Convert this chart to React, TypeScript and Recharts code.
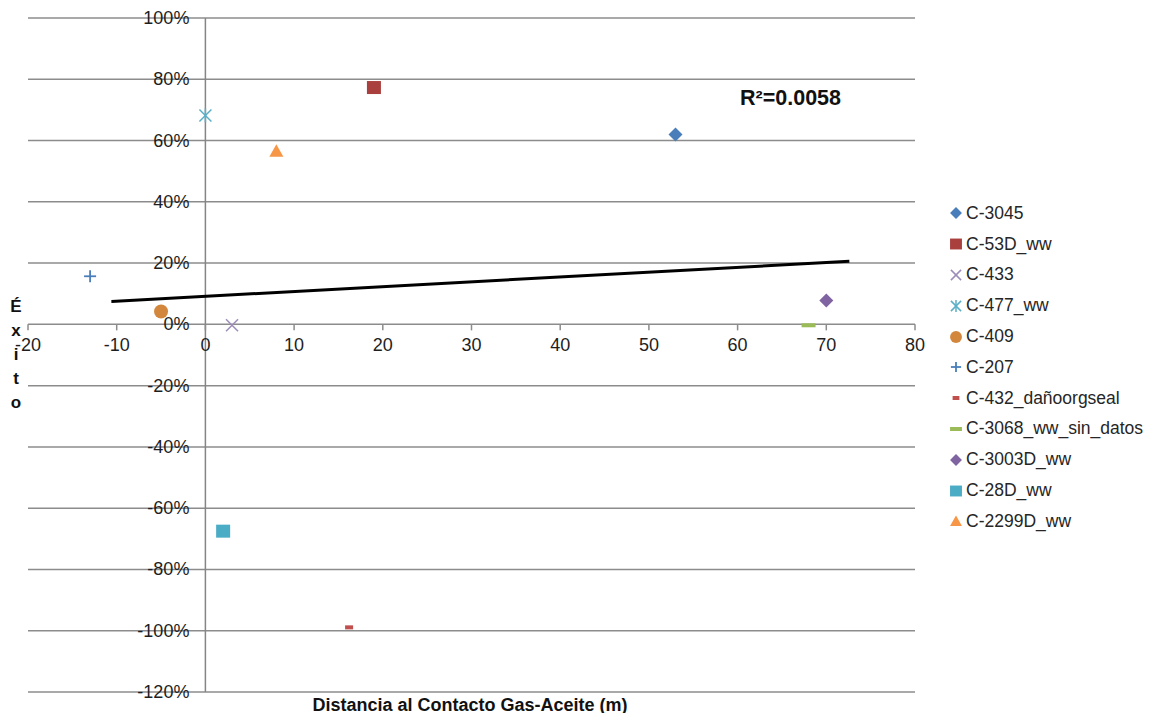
import { Legend, ReferenceDot, ReferenceLine, Scatter, ScatterChart, XAxis, YAxis } from "recharts";

const wells = [
  "C-3045",
  "C-53D_ww",
  "C-433",
  "C-477_ww",
  "C-409",
  "C-207",
  "C-432_dañoorgseal",
  "C-3068_ww_sin_datos",
  "C-3003D_ww",
  "C-28D_ww",
  "C-2299D_ww",
];
const distancia = [53, 19, 3, 0, -5, -13, 16.2, 68, 70, 2, 8];
const exito = [0.62, 0.773, -0.003, 0.682, 0.042, 0.157, -0.989, -0.003, 0.078, -0.675, 0.567];
const colors = [
  "#4a7ebb",
  "#a9403d",
  "#9c8dba",
  "#5aafc6",
  "#d3873d",
  "#4a7ebb",
  "#c0504d",
  "#9bbb59",
  "#8064a2",
  "#4bacc6",
  "#f79646",
];
const markers = ["diamond", "square", "x", "asterisk", "circle", "plus", "dashSmall", "dash", "diamond", "square", "triangle"];

const xTicks = [-20, -10, 0, 10, 20, 30, 40, 50, 60, 70, 80];
const yTicks = [1, 0.8, 0.6, 0.4, 0.2, 0, -0.2, -0.4, -0.6, -0.8, -1, -1.2];

// linear trend
const trendX = [-10.6, 72.6];
const trendY = [0.075, 0.206];
const r2Label = "R²=0.0058";

const FONT = "'Liberation Sans', Arial, sans-serif";

function Marker({ kind, cx, cy, color, k = 1 }: { kind: string; cx: number; cy: number; color: string; k?: number }) {
  const s = 7 * k;
  switch (kind) {
    case "diamond":
      return <polygon points={`${cx},${cy - s} ${cx + s},${cy} ${cx},${cy + s} ${cx - s},${cy}`} fill={color} />;
    case "square":
      return <rect x={cx - s} y={cy - s + 0.5} width={2 * s} height={2 * s - 1} fill={color} />;
    case "circle":
      return <circle cx={cx} cy={cy} r={s} fill={color} />;
    case "triangle":
      return <polygon points={`${cx},${cy - s + 0.5} ${cx + s},${cy + s - 1} ${cx - s},${cy + s - 1}`} fill={color} />;
    case "x": {
      const a = 6 * k;
      return (
        <g stroke={color} strokeWidth={1.5}>
          <line x1={cx - a} y1={cy - a} x2={cx + a} y2={cy + a} />
          <line x1={cx - a} y1={cy + a} x2={cx + a} y2={cy - a} />
        </g>
      );
    }
    case "asterisk": {
      const a = 6 * k;
      return (
        <g stroke={color} strokeWidth={1.5}>
          <line x1={cx - a} y1={cy - a} x2={cx + a} y2={cy + a} />
          <line x1={cx - a} y1={cy + a} x2={cx + a} y2={cy - a} />
          <line x1={cx} y1={cy - a - 1} x2={cx} y2={cy + a + 1} />
        </g>
      );
    }
    case "plus": {
      const a = 6 * k;
      return (
        <g stroke={color} strokeWidth={1.8}>
          <line x1={cx - a} y1={cy} x2={cx + a} y2={cy} />
          <line x1={cx} y1={cy - a} x2={cx} y2={cy + a} />
        </g>
      );
    }
    case "dashSmall":
      return <rect x={cx - 4 * k} y={cy - 2} width={8 * k} height={4} fill={color} />;
    case "dash":
      return <rect x={cx - 7 * k} y={cy - 2} width={14 * k} height={4} fill={color} />;
    default:
      return null;
  }
}

function LegendBox() {
  return (
    <div style={{ fontFamily: FONT, fontSize: 17.5, color: "#262626", whiteSpace: "nowrap" }}>
      {wells.map((w, i) => (
        <div key={w} style={{ display: "flex", alignItems: "center", height: 30.8 }}>
          <svg width={16} height={16} style={{ marginRight: 2, flexShrink: 0 }}>
            <Marker kind={markers[i]} cx={8} cy={8} color={colors[i]} k={0.85} />
          </svg>
          <span>{w}</span>
        </div>
      ))}
    </div>
  );
}

export default function App() {
  const trend = trendX.map((x, i) => ({ x, y: trendY[i] }));

  return (
    <div style={{ position: "relative", width: 1143, height: 705, fontFamily: FONT }}>
      <ScatterChart width={1143} height={705} margin={{ top: 10, right: 236, bottom: 21, left: 20 }}>
        <XAxis type="number" dataKey="x" domain={[-20, 80]} ticks={xTicks} hide />
        <YAxis type="number" dataKey="y" domain={[-1.2, 1]} ticks={yTicks} hide />

        {yTicks.map((v) => (
          <ReferenceLine key={"g" + v} y={v} stroke="#8c8c8c" strokeWidth={1.5} />
        ))}
        <ReferenceLine x={0} stroke="#858585" strokeWidth={1.5} />

        {xTicks.map((v) => (
          <ReferenceDot
            key={"xt" + v}
            x={v}
            y={0}
            r={0}
            shape={(p: any) => (
              <g>
                <line x1={p.cx} y1={p.cy} x2={p.cx} y2={p.cy + 6} stroke="#8c8c8c" strokeWidth={1.5} />
                <text x={p.cx} y={p.cy + 21} textAnchor="middle" dominantBaseline="central" fontSize={18} fill="#1e1e1e" fontFamily={FONT}>
                  {v}
                </text>
              </g>
            )}
          />
        ))}
        {yTicks.map((v) => (
          <ReferenceDot
            key={"yt" + v}
            x={0}
            y={v}
            r={0}
            shape={(p: any) => (
              <text x={p.cx - 16} y={p.cy} textAnchor="end" dominantBaseline="central" fontSize={18} fill="#1e1e1e" fontFamily={FONT}>
                {Math.round(v * 100) + "%"}
              </text>
            )}
          />
        ))}

        {wells.map((w, i) => (
          <Scatter
            key={w}
            name={w}
            data={[{ x: distancia[i], y: exito[i] }]}
            fill={colors[i]}
            isAnimationActive={false}
            shape={(p: any) => <Marker kind={markers[i]} cx={p.cx} cy={p.cy} color={colors[i]} />}
          />
        ))}

        <Scatter
          name="trend"
          data={trend}
          line={{ stroke: "#000", strokeWidth: 3 }}
          legendType="none"
          isAnimationActive={false}
          shape={() => <g />}
        />

        <Legend
          layout="vertical"
          align="center"
          verticalAlign="middle"
          wrapperStyle={{ left: 940, top: 190, width: 200 }}
          content={() => <LegendBox />}
        />
      </ScatterChart>

      <div
        style={{
          position: "absolute",
          left: 732,
          top: 77,
          fontSize: 21.5,
          fontWeight: "bold",
          lineHeight: "26px",
          color: "#111",
        }}
      >
        {r2Label}
      </div>

      <div
        style={{
          position: "absolute",
          left: 262,
          top: 686,
          width: 400,
          textAlign: "center",
          fontSize: 18,
          fontWeight: "bold",
          lineHeight: "22px",
          color: "#111",
        }}
      >
        Distancia al Contacto Gas-Aceite (m)
      </div>

      <div
        style={{
          position: "absolute",
          left: 0,
          top: 287,
          width: 16,
          textAlign: "center",
          fontSize: 17,
          fontWeight: "bold",
          lineHeight: "24px",
          color: "#111",
        }}
      >
        {"Éxito".split("").map((c, i) => (
          <div key={i}>{c}</div>
        ))}
      </div>
    </div>
  );
}
